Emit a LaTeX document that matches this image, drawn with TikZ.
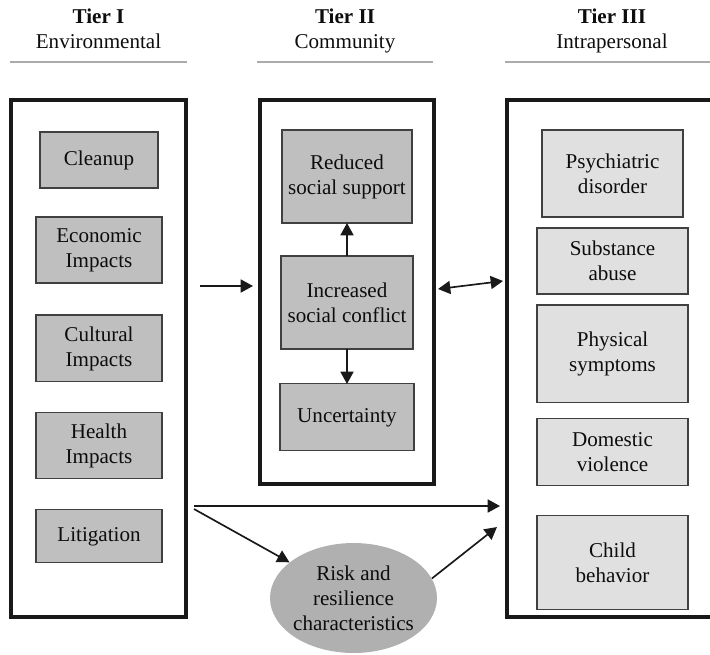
\documentclass[tikz,border=0pt]{standalone}
\usepackage{fontspec}
\setmainfont{Liberation Serif}
\usetikzlibrary{positioning,shapes.geometric,arrows.meta}
\tikzset{
    tier/.style = {
        draw = black!90,
        line width = 2.3pt,
        inner sep = 0pt,
        outer sep = 0pt,
        },
    head rule/.style = {
        draw = black!33,
        line width = 1.5pt,
        },
    factor/.style = {
        draw = black!75,
        fill = black!25,
        line width = 0.6pt,
        align = center,
        inner sep = 0pt,
        outer sep = 0pt,
        minimum width = 2.52cm,
        },
    outcome/.style = {
        factor,
        fill = black!12,
        minimum width = 3.02cm,
        },
    risk/.style = {
        ellipse,
        fill = black!31,
        align = center,
        inner sep = 0pt,
        inner xsep = -0.1cm,
        minimum width = 3.34cm,
        minimum height = 2.2cm,
        },
    link/.style = {
        -{Triangle[length=7pt,width=7.4pt]},
        draw = black!90,
        line width = 0.95pt,
        },
}

\begin{document}
\begin{tikzpicture}[x=0.02cm, y=0.02cm, font=\rmfamily\fontsize{12}{14.2}\selectfont, text=black!95]
    \useasboundingbox (0,0) rectangle (710,-654);

    % headings
    \node[anchor=base] (t1) at (98.5,-23) {\textbf{Tier I}};
    \node[anchor=base] (t1sub) at (98.5,-48) {Environmental};
    \node[anchor=base] (t2) at (345,-23) {\textbf{Tier II}};
    \node[anchor=base] (t2sub) at (345,-48) {Community};
    \node[anchor=base] (t3) at (612,-23) {\textbf{Tier III}};
    \node[anchor=base] (t3sub) at (612,-48) {Intrapersonal};
    \draw[head rule] (10,-62) -- (187,-62);
    \draw[head rule] (257,-62) -- (433,-62);
    \draw[head rule] (505,-62) -- (720,-62);

    % tier frames
    \node[tier, minimum width=3.5cm, minimum height=10.34cm] (env) at (98.5,-358.5) {};
    \node[tier, minimum width=3.48cm, minimum height=7.68cm] (com) at (347,-292) {};
    \node[tier, minimum width=4.26cm, minimum height=10.34cm] (intra) at (613.5,-358.5) {};

    % tier I
    \node[factor, minimum width=2.36cm, minimum height=1.12cm] (cleanup) at (99,-160) {Cleanup};
    \node[factor, minimum height=1.32cm, below=0.58cm of cleanup] (econ) {Economic\\Impacts};
    \node[factor, minimum height=1.34cm, below=0.64cm of econ] (cult) {Cultural\\Impacts};
    \node[factor, minimum height=1.32cm, below=0.62cm of cult] (health) {Health\\Impacts};
    \node[factor, minimum height=1.06cm, below=0.62cm of health] (litig) {Litigation};

    % tier II
    \node[factor, minimum width=2.6cm, minimum height=1.86cm] (support) at (347,-176.5) {Reduced\\social support};
    \node[factor, minimum width=2.64cm, minimum height=1.86cm, below=0.66cm of support] (conflict) {Increased\\social conflict};
    \node[factor, minimum width=2.68cm, minimum height=1.34cm, below=0.7cm of conflict] (uncert) {Uncertainty};

    % tier III
    \node[outcome, minimum width=2.82cm, minimum height=1.74cm] (psych) at (612.5,-173.5) {Psychiatric\\disorder};
    \node[outcome, minimum height=1.32cm, below=0.22cm of psych] (subst) {Substance\\abuse};
    \node[outcome, minimum height=1.96cm, below=0.22cm of subst] (phys) {Physical\\symptoms};
    \node[outcome, minimum height=1.34cm, below=0.32cm of phys] (domest) {Domestic\\violence};
    \node[outcome, minimum height=1.88cm, below=0.6cm of domest] (child) {Child\\behavior};

    \node[risk] (risk) at (353.5,-598) {Risk and\\resilience\\characteristics};

    % loose ends
    \coordinate (envout) at (200,-286);
    \coordinate (comin) at (253,-286);
    \coordinate (comout) at (438,-289);
    \coordinate (intrain) at (503,-281);
    \coordinate (lowout) at (194,-506);
    \coordinate (lowsplit) at (194,-509);
    \coordinate (riskin) at (497,-527);

    \draw[link] (conflict.north) -- (support.south);
    \draw[link] (conflict.south) -- (uncert.north);
    \draw[link] (envout) -- (comin);
    \draw[link, {Triangle[length=7pt,width=7.4pt]}-{Triangle[length=7pt,width=7.4pt]}] (comout) -- (intrain);
    \draw[link, shorten >=0.14cm] (lowout) -- (lowout -| intra.west);
    \draw[link] (lowsplit) -- (risk);
    \draw[link] (risk.14) -- (riskin);
\end{tikzpicture}
\end{document}
